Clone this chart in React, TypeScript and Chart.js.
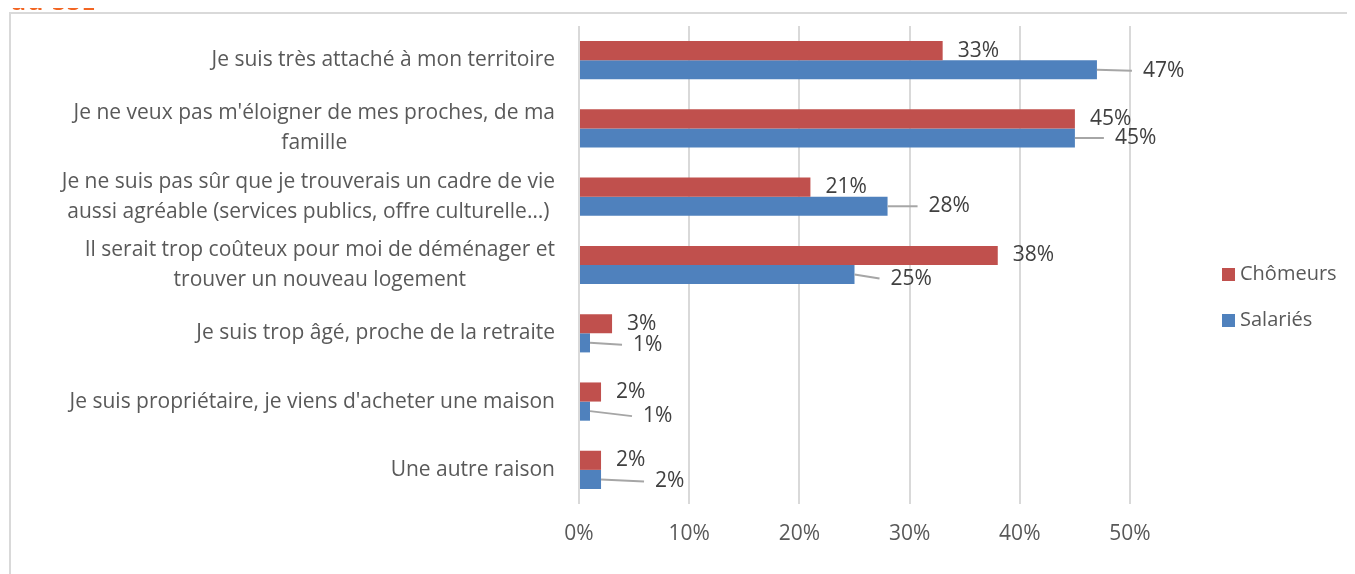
import React, { useEffect, useRef } from "react";
import { Chart, registerables } from "chart.js";

Chart.register(...registerables);

const categories: (string | string[])[] = [
  "Je suis très attaché à mon territoire",
  ["Je ne veux pas m'éloigner de mes proches, de ma", "famille"],
  ["Je ne suis pas sûr que je trouverais un cadre de vie", "aussi agréable (services publics, offre culturelle…)"],
  ["Il serait trop coûteux pour moi de déménager et", "trouver un nouveau logement"],
  "Je suis trop âgé, proche de la retraite",
  "Je suis propriétaire, je viens d'acheter une maison",
  "Une autre raison",
];
const chomeurs = [33, 45, 21, 38, 3, 2, 2];
const salaries = [47, 45, 28, 25, 1, 1, 2];
const seriesNames = ["Chômeurs", "Salariés"];
const xTicks = [0, 10, 20, 30, 40, 50];

const RED = "#C0504D";
const BLUE = "#4F81BD";
const FONT = "'Open Sans', 'Noto Sans', sans-serif";
const TEXT = "#595959";

// label placement offsets for the Salariés labels (leader lines)
const blueOffsets = [
  [46, 1], [40, 0], [41, 0], [36, 4], [43, 2], [53, 5], [54, 2],
];

const labelPlugin = {
  id: "labels",
  afterDraw(chart: any) {
    const ctx = chart.ctx;
    ctx.save();
    // category labels: block right-aligned, lines centered within block
    const ys = chart.scales.y;
    ctx.font = `21px ${FONT}`;
    ctx.fillStyle = TEXT;
    ctx.textBaseline = "middle";
    ctx.textAlign = "center";
    const right = chart.chartArea.left - 24;
    const lh = 30;
    categories.forEach((c, i) => {
      const lines = Array.isArray(c) ? c : [c];
      const maxW = Math.max(...lines.map((l) => ctx.measureText(l).width));
      const cx = right - maxW / 2;
      const cy = ys.getPixelForValue(i);
      const y0 = cy - ((lines.length - 1) * lh) / 2;
      lines.forEach((l, k) => ctx.fillText(l, cx, y0 + k * lh));
    });

    ctx.textAlign = "left";
    ctx.fillStyle = "#404040";
    const m0 = chart.getDatasetMeta(0);
    m0.data.forEach((el: any, i: number) => {
      ctx.fillText(chomeurs[i] + "%", el.x + 15, el.y);
    });
    const m1 = chart.getDatasetMeta(1);
    m1.data.forEach((el: any, i: number) => {
      const [dx, dy] = blueOffsets[i];
      const tx = el.x + dx;
      const ty = el.y + dy;
      ctx.strokeStyle = "#A6A6A6";
      ctx.lineWidth = 2;
      ctx.beginPath();
      ctx.moveTo(el.x, el.y);
      ctx.lineTo(tx - 11, ty);
      ctx.stroke();
      ctx.fillText(salaries[i] + "%", tx, ty);
    });
    // legend
    const items = [
      { c: RED, t: seriesNames[0], y: 274 },
      { c: BLUE, t: seriesNames[1], y: 320 },
    ];
    ctx.font = `20px ${FONT}`;
    items.forEach((it) => {
      ctx.fillStyle = it.c;
      ctx.fillRect(1222, it.y - 6, 13, 13);
      ctx.fillStyle = TEXT;
      ctx.fillText(it.t, 1240, it.y);
    });
    ctx.restore();
  },
};

export default function App() {
  const ref = useRef<HTMLCanvasElement>(null);
  useEffect(() => {
    const chart = new Chart(ref.current!, {
      type: "bar",
      data: {
        labels: categories,
        datasets: [
          { label: seriesNames[0], data: chomeurs, backgroundColor: RED, barPercentage: 1, categoryPercentage: 0.56 },
          { label: seriesNames[1], data: salaries, backgroundColor: BLUE, barPercentage: 1, categoryPercentage: 0.56 },
        ],
      },
      options: {
        indexAxis: "y",
        animation: false,
        responsive: false,
        layout: { padding: { left: 0, right: 225, top: 26, bottom: 0 } },
        plugins: { legend: { display: false }, tooltip: { enabled: false } },
        scales: {
          x: {
            min: 0,
            max: 50,
            afterBuildTicks: (s: any) => {
              s.ticks = xTicks.map((v) => ({ value: v }));
            },
            afterFit: (s: any) => {
              s.height = 70;
              s.paddingLeft = 0;
              s.paddingRight = 0;
            },
            grid: { color: "#D9D9D9", lineWidth: 2, drawTicks: false },
            border: { display: false },
            ticks: {
              padding: 17,
              color: TEXT,
              font: { family: FONT, size: 21 },
              callback: (v: any) => v + "%",
            },
          },
          y: {
            afterFit: (s: any) => {
              s.width = 579;
              s.paddingTop = 0;
              s.paddingBottom = 0;
            },
            grid: { display: false, drawTicks: false },
            border: { display: false },
            ticks: { display: false },
          },
        },
      },
      plugins: [labelPlugin],
    } as any);
    return () => chart.destroy();
  }, []);

  return (
    <div style={{ position: "relative", width: 1355, height: 574, margin: "-8px 0 0 -8px", overflow: "hidden", background: "#fff" }}>
      <div
        style={{
          position: "absolute",
          left: 9,
          top: 12,
          width: 1400,
          height: 600,
          border: "2px solid #D9D9D9",
          boxSizing: "border-box",
        }}
      />
      <canvas ref={ref} width={1355} height={574} style={{ position: "absolute", left: 0, top: 0 }} />
      <div
        style={{
          position: "absolute",
          zIndex: 2,
          left: 11,
          top: -14,
          fontFamily: FONT,
          fontWeight: 700,
          fontSize: 25,
          color: "#F26522",
          lineHeight: "28px",
          letterSpacing: 1,
          whiteSpace: "nowrap",
        }}
      >
        au SSE
      </div>
    </div>
  );
}
